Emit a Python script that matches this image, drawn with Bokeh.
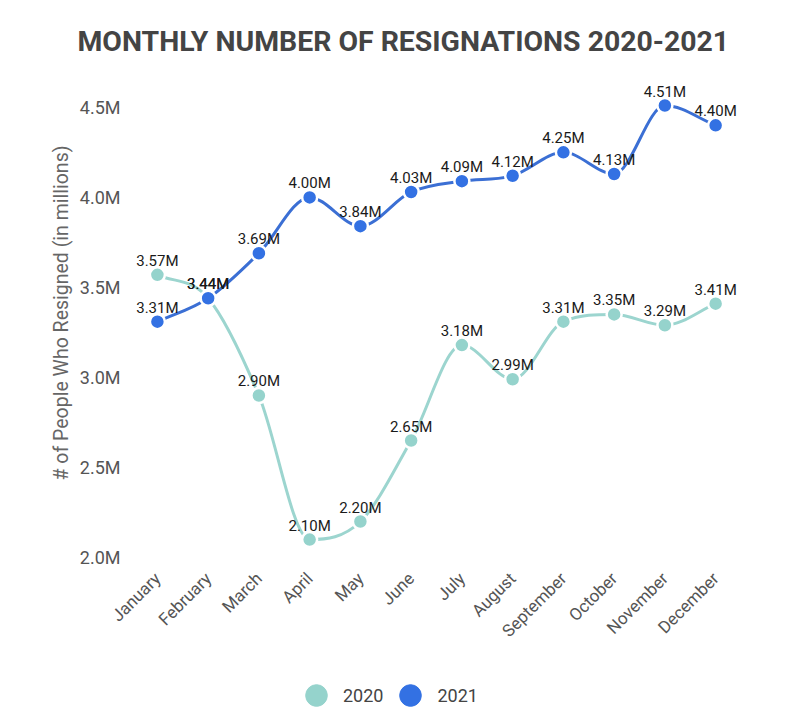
import math
from bokeh.plotting import figure
from bokeh.layouts import column
from bokeh.models import Range1d, Legend, LegendItem, FixedTicker, ColumnDataSource
from bokeh.embed import file_html
from bokeh.resources import INLINE
from bokeh.core.properties import value

months = ["January", "February", "March", "April", "May", "June", "July",
          "August", "September", "October", "November", "December"]
resign_2020 = [3.57, 3.44, 2.90, 2.10, 2.20, 2.65, 3.18, 2.99, 3.31, 3.35, 3.29, 3.41]
resign_2021 = [3.31, 3.44, 3.69, 4.00, 3.84, 4.03, 4.09, 4.12, 4.25, 4.13, 4.51, 4.40]
y_ticks = [2.0, 2.5, 3.0, 3.5, 4.0, 4.5]
y_tick_labels = ["2.0M", "2.5M", "3.0M", "3.5M", "4.0M", "4.5M"]
series_names = ["2020", "2021"]

C2020 = "#95d3cc"
C2021 = "#3371e3"
L2020 = "#9cd5cf"
L2021 = "#3b6fd4"
FONT = "Roboto"


def monotone_tangents(ys):
    n = len(ys)
    d = [ys[i + 1] - ys[i] for i in range(n - 1)]
    m = [0.0] * n
    m[0] = d[0]
    m[-1] = d[-1]
    for i in range(1, n - 1):
        if d[i - 1] * d[i] <= 0:
            m[i] = 0.0
        else:
            m[i] = (d[i - 1] + d[i]) / 2.0
    for i in range(n - 1):
        if d[i] == 0:
            m[i] = 0.0
            m[i + 1] = 0.0
            continue
        a = m[i] / d[i]
        b = m[i + 1] / d[i]
        s = a * a + b * b
        if s > 9:
            t = 3.0 / math.sqrt(s)
            m[i] = t * a * d[i]
            m[i + 1] = t * b * d[i]
    return m


def bezier_source(ys):
    xs = list(range(len(ys)))
    m = monotone_tangents(ys)
    data = dict(x0=[], y0=[], x1=[], y1=[], cx0=[], cy0=[], cx1=[], cy1=[])
    for i in range(len(ys) - 1):
        data["x0"].append(xs[i]); data["y0"].append(ys[i])
        data["x1"].append(xs[i + 1]); data["y1"].append(ys[i + 1])
        data["cx0"].append(xs[i] + 1 / 3); data["cy0"].append(ys[i] + m[i] / 3)
        data["cx1"].append(xs[i + 1] - 1 / 3); data["cy1"].append(ys[i + 1] - m[i + 1] / 3)
    return ColumnDataSource(data)


p = figure(width=798, height=650, output_backend="svg", toolbar_location=None,
           x_range=Range1d(-0.53, 11.49), y_range=Range1d(1.967, 4.749),
           min_border_left=130, min_border_right=58, min_border_top=62,
           min_border_bottom=85)

p.title.text = "MONTHLY NUMBER OF RESIGNATIONS 2020-2021"
p.title.align = "left"
p.title.offset = -53
p.title.text_font = FONT
p.title.text_font_style = "bold"
p.title.text_font_size = "28.4px"
p.title.text_color = "#444444"
p.title.standoff = 10

p.outline_line_color = None
p.grid.visible = False
p.background_fill_color = "white"
p.border_fill_color = "white"

xs = list(range(len(months)))

for ys, lc, mc in [(resign_2020, L2020, C2020), (resign_2021, L2021, C2021)]:
    p.bezier(x0="x0", y0="y0", x1="x1", y1="y1", cx0="cx0", cy0="cy0",
             cx1="cx1", cy1="cy1", source=bezier_source(ys), line_color=lc, line_width=3)
    p.scatter(xs, ys, size=15, fill_color=mc, line_color="white", line_width=2.5)

for ys in [resign_2020, resign_2021]:
    src = ColumnDataSource(dict(x=xs, y=ys, t=["%.2fM" % v for v in ys]))
    p.text(x="x", y="y", text="t", source=src, text_font=value(FONT),
           text_font_size="15px", text_color="#1a1a1a", text_align="center",
           text_baseline="middle", y_offset=-14)

# y axis
p.yaxis.ticker = FixedTicker(ticks=y_ticks)
p.yaxis.major_label_overrides = {t: l for t, l in zip(y_ticks, y_tick_labels)}
p.yaxis.axis_line_color = None
p.yaxis.major_tick_line_color = None
p.yaxis.minor_tick_line_color = None
p.yaxis.major_label_text_font = FONT
p.yaxis.major_label_text_font_size = "18px"
p.yaxis.major_label_text_color = "#555555"
p.yaxis.major_label_standoff = 4
p.yaxis.axis_label = "# of People Who Resigned (in millions)"
p.yaxis.axis_label_text_font = FONT
p.yaxis.axis_label_text_font_style = "normal"
p.yaxis.axis_label_text_font_size = "19.5px"
p.yaxis.axis_label_text_color = "#666666"
p.yaxis.axis_label_standoff = 4

# x axis
p.xaxis.ticker = FixedTicker(ticks=xs)
p.xaxis.major_label_overrides = {i: m for i, m in enumerate(months)}
p.xaxis.major_label_orientation = math.pi / 4
p.xaxis.axis_line_color = None
p.xaxis.major_tick_line_color = None
p.xaxis.minor_tick_line_color = None
p.xaxis.major_label_text_font = FONT
p.xaxis.major_label_text_font_size = "17px"
p.xaxis.major_label_text_color = "#555555"
p.xaxis.major_label_standoff = 6

# legend strip (separate figure so the legend is not clipped)
lf = figure(width=798, height=74, output_backend="svg", toolbar_location=None,
            x_range=Range1d(-0.53, 11.49), y_range=Range1d(1.967, 4.749),
            x_axis_type=None, y_axis_type=None, min_border=0)
lf.outline_line_color = None
lf.grid.visible = False
items = []
for name, ys, mc in [(series_names[0], resign_2020, C2020), (series_names[1], resign_2021, C2021)]:
    r = lf.scatter(xs, ys, size=15, fill_color=mc, line_color=mc, visible=False)
    items.append(LegendItem(label=name, renderers=[r]))
legend = Legend(items=items, orientation="horizontal", location=(159, 2),
                glyph_width=54, glyph_height=54, label_standoff=0, spacing=0,
                padding=0, margin=0, border_line_color=None,
                background_fill_alpha=0,
                label_text_font=FONT, label_text_font_size="18px",
                label_text_color="#444444")
lf.add_layout(legend, "center")

layout = column(p, lf, spacing=0)
open("out.html", "w").write(file_html(layout, INLINE))
